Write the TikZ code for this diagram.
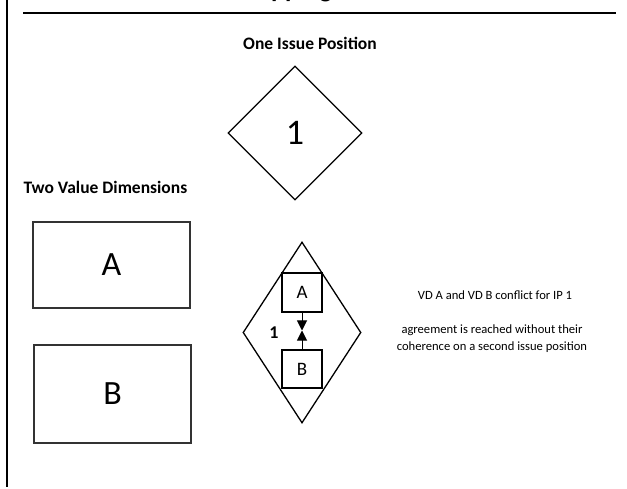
\documentclass[tikz,border=0pt]{standalone}
\usepackage{fontspec}
\setmainfont{Carlito}
\usetikzlibrary{arrows.meta,shapes.geometric}
\definecolor{edgegray}{HTML}{333333}
\tikzset{
  frame/.style={line width=2pt, draw=black},
  bigbox/.style={draw=edgegray, line width=1.6pt, minimum width=157pt, inner sep=0pt, font=\fontsize{34}{36}\selectfont},
  ipdia/.style={diamond, draw, line width=1.3pt, inner sep=0pt},
  vdbox/.style={draw, line width=1.2pt, fill=white, minimum width=40pt, minimum height=39pt, inner sep=0pt, font=\fontsize{19}{20}\selectfont},
  hdr/.style={font=\bfseries\fontsize{17.5}{20}\selectfont},
  note/.style={font=\fontsize{12.6}{17}\selectfont, align=center},
  tip/.style={-{Triangle[length=10pt,width=10pt]}, line width=1pt},
}
\begin{document}
\begin{tikzpicture}[x=1pt,y=-1pt]
  \useasboundingbox (0,0) rectangle (627,489);
  % frame lines and the cut title
  \draw[frame] (7,0) -- (7,487);
  \draw[frame] (23,13) -- (616,13);
  \node[font=\bfseries\fontsize{26}{28}\selectfont, anchor=base east, inner sep=0pt] (title) at (332,-2) {Mapping};

  % issue position
  \node[hdr] (onehdr) at (310,43) {One Issue Position};
  \node[ipdia, minimum width=134pt, minimum height=134pt, font=\fontsize{36}{36}\selectfont] (ip) at (295,133) {1};

  % value dimensions
  \node[hdr, anchor=west] (twohdr) at (20,187) {Two Value Dimensions};
  \node[bigbox, minimum height=86pt] (bigA) at (111.5,265) {A};
  \node[bigbox, minimum height=98pt] (bigB) at (112.5,394) {B};

  % conflict inside the issue position
  \node[ipdia, minimum width=118pt, minimum height=181pt] (conf) at (302,332.5) {};
  \node[vdbox] (smA) at (302,292.5) {A};
  \node[vdbox, minimum height=38pt] (smB) at (302,369) {B};
  \coordinate (meet) at (302,330.5);
  \draw[tip] (smA) -- (meet);
  \draw[tip] (smB) -- (meet);
  \node[font=\bfseries\fontsize{18}{18}\selectfont] (ipnum) at (274,333) {1};

  \node[note] (conflict) at (495,295) {VD A and VD B conflict for IP 1};
  \node[note] (reach) at (492,339) {agreement is reached without their\\coherence on a second issue position};
\end{tikzpicture}
\end{document}
